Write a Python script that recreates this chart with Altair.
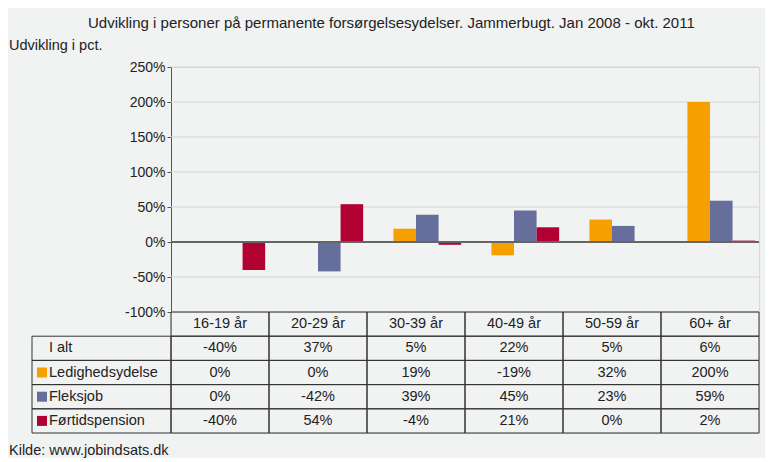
import altair as alt
import pandas as pd

categories = ["16-19 år", "20-29 år", "30-39 år", "40-49 år", "50-59 år", "60+ år"]
series = ["I alt", "Ledighedsydelse", "Fleksjob", "Førtidspension"]
i_alt = [-40, 37, 5, 22, 5, 6]
ledighedsydelse = [0, 0, 19, -19, 32, 200]
fleksjob = [0, -42, 39, 45, 23, 59]
fortidspension = [-40, 54, -4, 21, 0, 2]
colors = ["transparent", "#f5a000", "#666e9b", "#b10032"]
y_ticks = [-100, -50, 0, 50, 100, 150, 200, 250]

title_main = "Udvikling i personer på permanente forsørgelsesydelser. Jammerbugt. Jan 2008 - okt. 2011"
title_y = "Udvikling i pct."
source = "Kilde: www.jobindsats.dk"

values = {"I alt": i_alt, "Ledighedsydelse": ledighedsydelse,
          "Fleksjob": fleksjob, "Førtidspension": fortidspension}
rows = []
for s in series:
    for c, v in zip(categories, values[s]):
        rows.append({"category": c, "series": s, "value": v, "label": f"{v}%"})
df = pd.DataFrame(rows)
gdf = pd.DataFrame({"tick": y_ticks})

FONT = "Liberation Sans"
TXT = "#222222"
LINE = "#333333"
FS = 14.5
W = 588
H_PLOT = 245
H_TABLE = 121
LEFT = 162

x_scale = alt.Scale(domain=categories, paddingInner=0, paddingOuter=0)
color_scale = alt.Scale(domain=series, range=colors)
y_scale = alt.Scale(domain=[-100, 250], nice=False)
y_axis = alt.Axis(values=y_ticks, labelExpr="datum.value + '%'", grid=False,
                  domainColor="#555555", tickColor="#555555",
                  tickSize=4, labelFontSize=14, labelColor=TXT, labelPadding=2,
                  labelOverlap=False, title=None)

grid = alt.Chart(gdf).mark_rule(color="#d4d4d4", strokeWidth=1).encode(
    y=alt.Y("tick:Q", scale=y_scale, axis=y_axis)
)
bars = alt.Chart(df).mark_bar().encode(
    x=alt.X("category:N", scale=x_scale, axis=None, sort=categories),
    xOffset=alt.XOffset("series:N", sort=series,
                        scale=alt.Scale(domain=series, paddingInner=0, paddingOuter=0.17)),
    y=alt.Y("value:Q", scale=y_scale, axis=y_axis),
    color=alt.Color("series:N", scale=color_scale, legend=None),
)
zero = alt.Chart(df).transform_calculate(zero="0").mark_rule(
    color="#666666", strokeWidth=1.5
).encode(y=alt.Y("zero:Q", scale=y_scale, axis=y_axis))

top = alt.layer(grid, bars, zero).properties(
    width=W, height=H_PLOT,
    title=alt.TitleParams(title_y, anchor="start", frame="group", dx=-LEFT,
                          fontSize=FS, fontWeight="normal", color=TXT, font=FONT, offset=7),
)

# table data
row_order = ["header"] + series
trows = []
for c in categories:
    trows.append({"category": c, "row": "header", "text": c})
for s in series:
    for c, v in zip(categories, values[s]):
        trows.append({"category": c, "row": s, "text": f"{v}%"})
tdf = pd.DataFrame(trows)
ldf = pd.DataFrame({"row": series, "series": series})

y_row = alt.Y("row:N", scale=alt.Scale(domain=row_order, paddingInner=0, paddingOuter=0),
              axis=None, sort=row_order)

cells = alt.Chart(tdf).mark_rect(fill="transparent", stroke=LINE, strokeWidth=1).encode(
    x=alt.X("category:N", scale=x_scale, axis=None, sort=categories),
    y=y_row,
)
cell_text = alt.Chart(tdf).mark_text(fontSize=FS, color=TXT, font=FONT).encode(
    x=alt.X("category:N", scale=x_scale, axis=None, sort=categories),
    y=y_row,
    text="text:N",
)
label_cells = alt.Chart(ldf).mark_rect(fill="transparent", stroke=LINE, strokeWidth=1).encode(
    x=alt.value(-139), x2=alt.value(0), y=y_row,
)
label_squares = alt.Chart(ldf).mark_square(size=100, opacity=1).encode(
    x=alt.value(-129), y=y_row,
    color=alt.Color("series:N", scale=color_scale, legend=None),
)
label_text = alt.Chart(ldf).mark_text(align="left", fontSize=FS, color=TXT, font=FONT).encode(
    x=alt.value(-122), y=y_row, text="row:N",
)

table = alt.layer(cells, cell_text, label_cells, label_squares, label_text).properties(
    width=W, height=H_TABLE,
    title=alt.TitleParams(source, orient="bottom", anchor="start", frame="group", dx=-LEFT,
                          fontSize=FS, fontWeight="normal", color=TXT, font=FONT, offset=10),
)

chart = alt.vconcat(top, table, spacing=0, bounds="flush").properties(
    title=alt.TitleParams(title_main, anchor="middle", fontSize=15, fontWeight="normal",
                          color=TXT, font=FONT, offset=6, dx=7),
    padding={"left": 0, "top": 8, "right": 4, "bottom": 0},
).configure(
    font=FONT, background="#f1f2f2",
).configure_view(stroke="#d9d9d9")

chart.save("out.html", embed_options={"renderer": "svg", "actions": False})
